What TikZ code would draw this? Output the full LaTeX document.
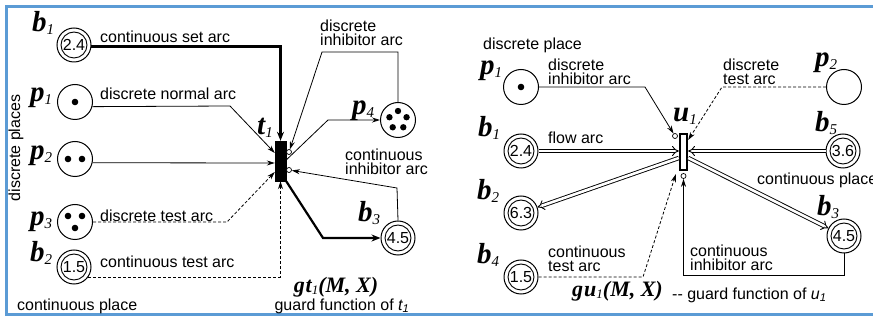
\documentclass[tikz,border=0pt]{standalone}
\usepackage{fontspec}
\setmainfont{Liberation Sans}
\newfontfamily\lblfont{Liberation Serif}
\usetikzlibrary{arrows.meta}
\definecolor{frameblue}{HTML}{5B9BD5}
\newcommand{\pn}[2]{{\lblfont\bfseries\itshape #1\raisebox{-0.1em}{\fontsize{15}{15}\selectfont\mdseries #2}}}

\begin{document}
\begin{tikzpicture}[x=1pt, y=-1pt,
    every node/.style={font=\fontsize{16}{14.5}\selectfont},
    place/.style={circle, draw, line width=1pt, minimum size=35pt, inner sep=0pt},
    cplace/.style={place, minimum size=34pt,
      path picture={\draw[line width=0.9pt] (path picture bounding box.center) circle (13pt);}},
    trans/.style={rectangle, draw, fill=black, minimum width=11pt, minimum height=40pt, inner sep=0pt},
    ctrans/.style={rectangle, draw, line width=2.4pt, fill=white, minimum width=7pt, minimum height=36pt, inner sep=0pt},
    inh/.style={circle, draw, fill=white, line width=0.7pt, minimum size=5pt, inner sep=0pt},
    plabel/.style={font=\fontsize{29}{29}\selectfont, inner sep=0pt, anchor=base west},
    note/.style={align=left, inner sep=0pt, anchor=west},
    normal arc/.style={line width=0.8pt, -{Stealth[length=8pt, width=5pt]}},
    set arc/.style={line width=2.2pt, -{Stealth[length=9pt, width=7pt]}},
    test arc/.style={normal arc, dash pattern=on 3pt off 2pt},
    flow arc/.style={double, double distance=2.6pt, line width=0.9pt, -{Implies}}]
  \useasboundingbox (0,0) rectangle (873,320);
  \clip (0,0) rectangle (873,320);
  \draw[frameblue, line width=3pt] (880,7) -- (6,7) -- (6,315) -- (880,315);

  % left net
  \node[cplace] (lb1) at (74,45) {2.4};
  \node[place] (lp1) at (75,102) {};
  \node[place] (lp2) at (75,159) {};
  \node[place] (lp3) at (75,222) {};
  \node[cplace] (lb2) at (74,267) {1.5};
  \node[trans] (t1) at (280.5,161) {};
  \node[place] (lp4) at (398,120) {};
  \node[cplace] (lb3) at (398,238) {4.5};
  \node[inh] (i1) at (289,152) {};
  \node[inh] (i2) at (289,170) {};

  \fill (lp1) circle (3.3pt);
  \foreach \dx in {-7,7} \fill (lp2) ++(\dx,0) circle (3.3pt);
  \foreach \dx/\dy in {-7/-6,7/-6,0/6} \fill (lp3) ++(\dx,\dy) circle (3.3pt);
  \foreach \a in {90,162,234,306,18} \fill (lp4) ++(\a:9pt) circle (3.2pt);

  \node[plabel] (nb1) at (32,32) {\pn{b}{1}};
  \node[plabel] (np1) at (30,102) {\pn{p}{1}};
  \node[plabel] (np2) at (30,160) {\pn{p}{2}};
  \node[plabel] (np3) at (30,226) {\pn{p}{3}};
  \node[plabel] (nb2) at (30,262) {\pn{b}{2}};
  \node[plabel] (nt1) at (257,135) {\pn{t}{1}};
  \node[plabel] (np4) at (352,115) {\pn{p}{4}};
  \node[plabel] (nb3) at (358,222) {\pn{b}{3}};

  \draw[set arc] (lb1.-5) -- (lb1.-5 -| t1.north) -- (t1.north);
  \draw[normal arc] (lp1.-15) -- (230,106) -- ([yshift=8pt]t1.west);
  \draw[normal arc] (lp2.-12) -- ([yshift=-2pt]t1.west);
  \draw[test arc] (lp3.east) -- (227,222) -- ([yshift=-11pt]t1.west);
  \draw[test arc] (lb2.-35) -- (lb2.-35 -| t1.south) -- (t1.south);
  \draw[normal arc] (lp4.north) |- (322,52) -- (i1);
  \draw[normal arc] ([yshift=1pt]t1.east) -- (328,120) -- (lp4.west);
  \draw[normal arc] (lb3.north) -- (397,188) -- (i2);
  \draw[set arc] (t1.south east) -- (323,238) -- (lb3.west);

  \node[note] (setarc) at (100,37) {continuous set arc};
  \node[note] (normarc) at (100,94) {discrete normal arc};
  \node[note] (testarc) at (100,216) {discrete test arc};
  \node[note] (ctestarc) at (100,262) {continuous test arc};
  \node[note] (cplace) at (17,306) {continuous place};
  \node[rotate=90, inner sep=0pt] (dplaces) at (16,148) {discrete places};
  \node[note] (dinharc) at (320,33) {discrete\\inhibitor arc};
  \node[note] (cinharc) at (345,162) {continuous\\inhibitor arc};
  \node[inner sep=0pt, font=\lblfont\bfseries\itshape\fontsize{22}{22}\selectfont] (gt) at (336,287)
    {g\kern1pt t\raisebox{-0.1em}{\fontsize{13}{13}\selectfont\mdseries 1}(M, X)};
  \node[inner sep=0pt] (gttxt) at (342,306) {guard function of {\itshape t\textsubscript{1}}};

  % right net
  \node[place] (rp1) at (521,87) {};
  \node[place] (rp2) at (844,87) {};
  \node[cplace] (rb1) at (521,151) {2.4};
  \node[cplace] (rb5) at (843,151) {3.6};
  \node[cplace] (rb2) at (521,213) {6.3};
  \node[cplace] (rb3) at (844,236) {4.5};
  \node[cplace] (rb4) at (521,277) {1.5};
  \node[ctrans] (u1) at (683.5,152) {};
  \node[inh] (i3) at (675,136) {};
  \node[inh] (i4) at (683.5,176) {};
  \fill (rp1) circle (3.3pt);

  \node[plabel] (nrp1) at (480,75) {\pn{p}{1}};
  \node[plabel] (nrb1) at (478,137) {\pn{b}{1}};
  \node[plabel] (nrb2) at (477,200) {\pn{b}{2}};
  \node[plabel] (nrb4) at (477,264) {\pn{b}{4}};
  \node[plabel] (nrp2) at (815,67) {\pn{p}{2}};
  \node[plabel] (nu1) at (673,122) {\pn{u}{1}};
  \node[plabel] (nrb5) at (815,132) {\pn{b}{5}};
  \node[plabel] (nrb3) at (817,216) {\pn{b}{3}};

  \draw[normal arc] (rp1.east) -- (645,87) -- (i3);
  \draw[test arc] (rp2.west) -- (722,87) -- ([yshift=12pt]u1.east);
  \draw[flow arc] (rb1.east) -- (rb1.east -| u1.west);
  \draw[flow arc] (rb5.west) -- (rb5.west -| u1.east);
  \draw[flow arc] ([yshift=-6pt]u1.west) -- (rb2);
  \draw[flow arc] ([yshift=-6pt]u1.east) -- (rb3);
  \draw[test arc] (rb4.east) -- (643,277) -- ([shift={(-3pt,-3pt)}]u1.south west);
  \draw[normal arc] (rb3.south) -- ++(0,22) -| (i4);

  \node[note] (dplace) at (483,45) {discrete place};
  \node[note] (rdinharc) at (548,72) {discrete\\inhibitor arc};
  \node[note] (rdtestarc) at (723,72) {discrete\\test arc};
  \node[note] (flowarc) at (548,138) {flow arc};
  \node[note] (rcplace) at (757,180) {continuous place};
  \node[note] (rctestarc) at (548,259) {continuous\\test arc};
  \node[note] (rcinharc) at (690,258) {continuous\\inhibitor arc};
  \node[inner sep=0pt, anchor=west, font=\lblfont\bfseries\itshape\fontsize{22}{22}\selectfont] (gu) at (572,291)
    {g\kern1pt u\raisebox{-0.1em}{\fontsize{13}{13}\selectfont\mdseries 1}(M, X)};
  \node[note] (gutxt) at (672,295) {-{}- guard function of {\itshape u\textsubscript{1}}};
\end{tikzpicture}
\end{document}
